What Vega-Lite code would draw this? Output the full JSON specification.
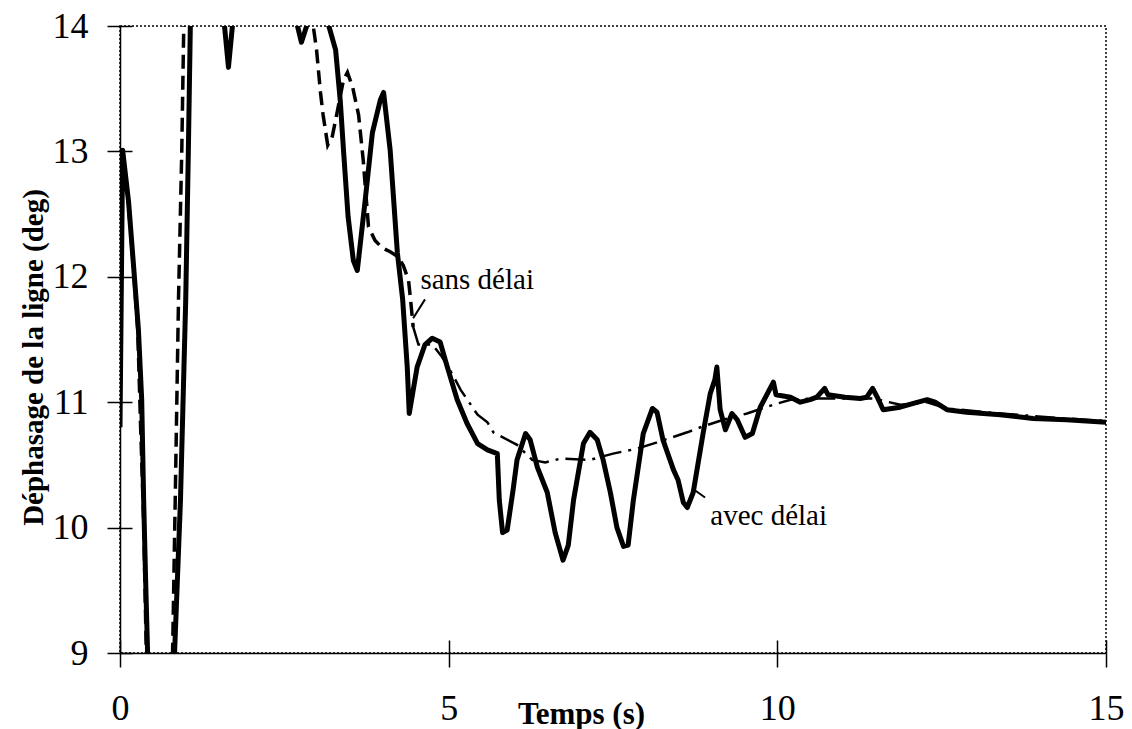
{
  "$schema": "https://vega.github.io/schema/vega-lite/v6.json",
  "width": 986,
  "height": 627,
  "autosize": {"type": "none"},
  "padding": {"left": 120, "top": 26, "right": 26, "bottom": 76},
  "background": "white",
  "config": {
    "view": {"stroke": "black", "strokeDash": [2, 2], "strokeWidth": 1.5},
    "axis": {"grid": false, "labelFlush": false, "labelOverlap": false, "labelBound": false, "domainColor": "black", "tickColor": "black", "labelColor": "black", "titleColor": "black", "domainWidth": 1.5, "tickWidth": 1.5}
  },
  "datasets": {
    "avec": [
      {"t": 0, "v": 10.8}, {"t": 0.04, "v": 13.01}, {"t": 0.13, "v": 12.6}, {"t": 0.2, "v": 12.13}, {"t": 0.28, "v": 11.58}, {"t": 0.33, "v": 11.02}, {"t": 0.36, "v": 10.22}, {"t": 0.39, "v": 9.58}, {"t": 0.42, "v": 9.0}, {"t": 0.5, "v": 8.0}, {"t": 0.65, "v": 7.5}, {"t": 0.78, "v": 8.0}, {"t": 0.83, "v": 9.0}, {"t": 0.92, "v": 10.22}, {"t": 1.0, "v": 11.82}, {"t": 1.04, "v": 13.01}, {"t": 1.07, "v": 14.0}, {"t": 1.2, "v": 15.0}, {"t": 1.5, "v": 15.3}, {"t": 1.59, "v": 14.0}, {"t": 1.65, "v": 13.67}, {"t": 1.71, "v": 14.0}, {"t": 1.9, "v": 15.0}, {"t": 2.3, "v": 15.5}, {"t": 2.6, "v": 14.8}, {"t": 2.7, "v": 14.0}, {"t": 2.76, "v": 13.87}, {"t": 2.84, "v": 14.0}, {"t": 2.95, "v": 14.5}, {"t": 3.15, "v": 14.05}, {"t": 3.28, "v": 13.81}, {"t": 3.35, "v": 13.41}, {"t": 3.4, "v": 13.01}, {"t": 3.47, "v": 12.48}, {"t": 3.55, "v": 12.13}, {"t": 3.61, "v": 12.05}, {"t": 3.73, "v": 12.61}, {"t": 3.84, "v": 13.15}, {"t": 3.96, "v": 13.41}, {"t": 4.01, "v": 13.47}, {"t": 4.11, "v": 13.01}, {"t": 4.22, "v": 12.19}, {"t": 4.3, "v": 11.82}, {"t": 4.37, "v": 11.28}, {"t": 4.4, "v": 10.91}, {"t": 4.52, "v": 11.28}, {"t": 4.64, "v": 11.46}, {"t": 4.75, "v": 11.51}, {"t": 4.87, "v": 11.48}, {"t": 4.98, "v": 11.28}, {"t": 5.13, "v": 11.02}, {"t": 5.28, "v": 10.83}, {"t": 5.44, "v": 10.67}, {"t": 5.59, "v": 10.62}, {"t": 5.74, "v": 10.59}, {"t": 5.77, "v": 10.22}, {"t": 5.82, "v": 9.96}, {"t": 5.89, "v": 9.98}, {"t": 5.98, "v": 10.3}, {"t": 6.04, "v": 10.54}, {"t": 6.17, "v": 10.75}, {"t": 6.24, "v": 10.7}, {"t": 6.35, "v": 10.48}, {"t": 6.5, "v": 10.28}, {"t": 6.62, "v": 9.96}, {"t": 6.74, "v": 9.74}, {"t": 6.82, "v": 9.86}, {"t": 6.9, "v": 10.22}, {"t": 7.05, "v": 10.67}, {"t": 7.15, "v": 10.76}, {"t": 7.26, "v": 10.7}, {"t": 7.35, "v": 10.54}, {"t": 7.46, "v": 10.28}, {"t": 7.56, "v": 10.0}, {"t": 7.66, "v": 9.85}, {"t": 7.73, "v": 9.86}, {"t": 7.81, "v": 10.22}, {"t": 7.96, "v": 10.75}, {"t": 8.1, "v": 10.95}, {"t": 8.17, "v": 10.92}, {"t": 8.26, "v": 10.7}, {"t": 8.42, "v": 10.46}, {"t": 8.49, "v": 10.38}, {"t": 8.57, "v": 10.2}, {"t": 8.63, "v": 10.16}, {"t": 8.72, "v": 10.28}, {"t": 8.87, "v": 10.75}, {"t": 8.98, "v": 11.07}, {"t": 9.05, "v": 11.18}, {"t": 9.08, "v": 11.28}, {"t": 9.13, "v": 10.94}, {"t": 9.21, "v": 10.78}, {"t": 9.31, "v": 10.91}, {"t": 9.39, "v": 10.86}, {"t": 9.51, "v": 10.72}, {"t": 9.62, "v": 10.75}, {"t": 9.74, "v": 10.96}, {"t": 9.94, "v": 11.16}, {"t": 9.98, "v": 11.06}, {"t": 10.2, "v": 11.04}, {"t": 10.35, "v": 11.0}, {"t": 10.5, "v": 11.02}, {"t": 10.6, "v": 11.04}, {"t": 10.72, "v": 11.11}, {"t": 10.77, "v": 11.06}, {"t": 11.03, "v": 11.04}, {"t": 11.26, "v": 11.03}, {"t": 11.36, "v": 11.04}, {"t": 11.45, "v": 11.11}, {"t": 11.53, "v": 11.03}, {"t": 11.61, "v": 10.94}, {"t": 11.87, "v": 10.96}, {"t": 12.07, "v": 10.99}, {"t": 12.28, "v": 11.02}, {"t": 12.4, "v": 11.0}, {"t": 12.58, "v": 10.94}, {"t": 12.88, "v": 10.92}, {"t": 13.39, "v": 10.9}, {"t": 13.89, "v": 10.87}, {"t": 14.4, "v": 10.86}, {"t": 15, "v": 10.84}
    ],
    "sansA": [
      {"t": 0, "v": 10.8}, {"t": 0.04, "v": 13.0}, {"t": 0.11, "v": 12.69}, {"t": 0.19, "v": 12.17}, {"t": 0.27, "v": 11.58}, {"t": 0.31, "v": 10.86}, {"t": 0.36, "v": 10.06}, {"t": 0.4, "v": 9.0}, {"t": 0.5, "v": 8.2}, {"t": 0.7, "v": 8.0}, {"t": 0.8, "v": 9.0}, {"t": 0.84, "v": 10.22}, {"t": 0.89, "v": 11.82}, {"t": 0.94, "v": 13.01}, {"t": 0.97, "v": 14.0}, {"t": 1.3, "v": 15.5}, {"t": 2.5, "v": 15.5}, {"t": 2.94, "v": 14.0}, {"t": 2.99, "v": 13.81}, {"t": 3.05, "v": 13.47}, {"t": 3.09, "v": 13.29}, {"t": 3.16, "v": 13.05}, {"t": 3.23, "v": 13.12}, {"t": 3.31, "v": 13.33}, {"t": 3.4, "v": 13.57}, {"t": 3.46, "v": 13.63}, {"t": 3.54, "v": 13.51}, {"t": 3.63, "v": 13.29}, {"t": 3.7, "v": 12.93}, {"t": 3.78, "v": 12.4}, {"t": 3.88, "v": 12.29}, {"t": 3.99, "v": 12.23}, {"t": 4.11, "v": 12.2}, {"t": 4.23, "v": 12.16}, {"t": 4.31, "v": 12.09}, {"t": 4.39, "v": 11.97}, {"t": 4.42, "v": 11.82}, {"t": 4.46, "v": 11.6}
    ],
    "sansB": [
      {"t": 4.46, "v": 11.6}, {"t": 4.54, "v": 11.46}, {"t": 4.64, "v": 11.46}, {"t": 4.75, "v": 11.46}, {"t": 4.9, "v": 11.36}, {"t": 5.06, "v": 11.22}, {"t": 5.18, "v": 11.1}, {"t": 5.44, "v": 10.9}, {"t": 5.59, "v": 10.84}, {"t": 5.68, "v": 10.76}, {"t": 6.04, "v": 10.66}, {"t": 6.27, "v": 10.54}, {"t": 6.47, "v": 10.52}, {"t": 6.7, "v": 10.55}, {"t": 7.15, "v": 10.54}, {"t": 7.5, "v": 10.59}, {"t": 7.87, "v": 10.63}, {"t": 8.17, "v": 10.68}, {"t": 8.63, "v": 10.76}, {"t": 8.83, "v": 10.8}, {"t": 9.18, "v": 10.86}, {"t": 9.54, "v": 10.91}, {"t": 9.94, "v": 10.98}, {"t": 10.2, "v": 11.02}, {"t": 10.6, "v": 11.03}, {"t": 11.03, "v": 11.03}, {"t": 11.45, "v": 11.03}, {"t": 11.87, "v": 10.98}, {"t": 12.28, "v": 11.0}, {"t": 12.58, "v": 10.95}, {"t": 13.39, "v": 10.91}, {"t": 14.4, "v": 10.87}, {"t": 15, "v": 10.85}
    ],
    "notes": [
      {"label": "sans délai", "t": 4.57, "v": 11.9},
      {"label": "avec délai", "t": 8.98, "v": 10.02}
    ],
    "arrows": [
      {"t": 4.64, "v": 11.82, "t2": 4.46, "v2": 11.67},
      {"t": 8.9, "v": 10.24, "t2": 8.74, "v2": 10.3}
    ]
  },
  "layer": [
    {
      "data": {"name": "avec"},
      "mark": {"type": "line", "color": "black", "strokeWidth": 5, "clip": true, "strokeJoin": "round"},
      "encoding": {
        "x": {"field": "t", "type": "quantitative", "scale": {"domain": [0, 15], "nice": false, "zero": false},
          "axis": {"orient": "bottom", "values": [0, 5, 10, 15], "format": "d", "tickSize": 14, "labelFont": "Liberation Serif", "labelFontSize": 36, "labelPadding": 24,
            "title": "Temps (s)", "titleFont": "Liberation Serif", "titleFontWeight": "bold", "titleFontSize": 31, "titleX": 461, "titleY": 70, "titleBaseline": "alphabetic", "titleAlign": "center", "titleAnchor": null}},
        "y": {"field": "v", "type": "quantitative", "scale": {"domain": [9, 14], "nice": false, "zero": false},
          "axis": {"orient": "left", "values": [9, 10, 11, 12, 13, 14], "format": "d", "tickSize": 13, "labelFont": "Liberation Serif", "labelFontSize": 36, "labelPadding": 19,
            "title": "Déphasage de la ligne (deg)", "titleFont": "Liberation Serif", "titleFontWeight": "bold", "titleFontSize": 29, "titleAngle": -90, "titleX": -78, "titleY": 331, "titleBaseline": "alphabetic", "titleAlign": "center", "titleAnchor": null}}
      }
    },
    {
      "data": {"name": "sansA"},
      "mark": {"type": "line", "color": "black", "strokeWidth": 3.5, "strokeDash": [14, 7], "clip": true},
      "encoding": {
        "x": {"field": "t", "type": "quantitative", "axis": {"orient": "bottom", "values": [0, 5, 10, 15], "offset": -13, "tickSize": 13, "labels": false, "domain": false, "title": null}},
        "y": {"field": "v", "type": "quantitative", "axis": {"orient": "left", "values": [9, 10, 11, 12, 13, 14], "offset": -12, "tickSize": 12, "labels": false, "domain": false, "title": null}}
      }
    },
    {
      "data": {"name": "sansB"},
      "mark": {"type": "line", "color": "black", "strokeWidth": 2.5, "strokeDash": [20, 7, 3, 7], "clip": true},
      "encoding": {
        "x": {"field": "t", "type": "quantitative", "axis": null},
        "y": {"field": "v", "type": "quantitative", "axis": null}
      }
    },
    {
      "data": {"name": "arrows"},
      "mark": {"type": "rule", "color": "black", "strokeWidth": 2},
      "encoding": {
        "x": {"field": "t", "type": "quantitative", "axis": null},
        "y": {"field": "v", "type": "quantitative", "axis": null},
        "x2": {"field": "t2"},
        "y2": {"field": "v2"}
      }
    },
    {
      "data": {"name": "notes"},
      "mark": {"type": "text", "align": "left", "baseline": "alphabetic", "font": "Liberation Serif", "fontSize": 29, "color": "black"},
      "encoding": {
        "x": {"field": "t", "type": "quantitative", "axis": null},
        "y": {"field": "v", "type": "quantitative", "axis": null},
        "text": {"field": "label"}
      }
    }
  ],
  "resolve": {"axis": {"x": "independent", "y": "independent"}}
}
